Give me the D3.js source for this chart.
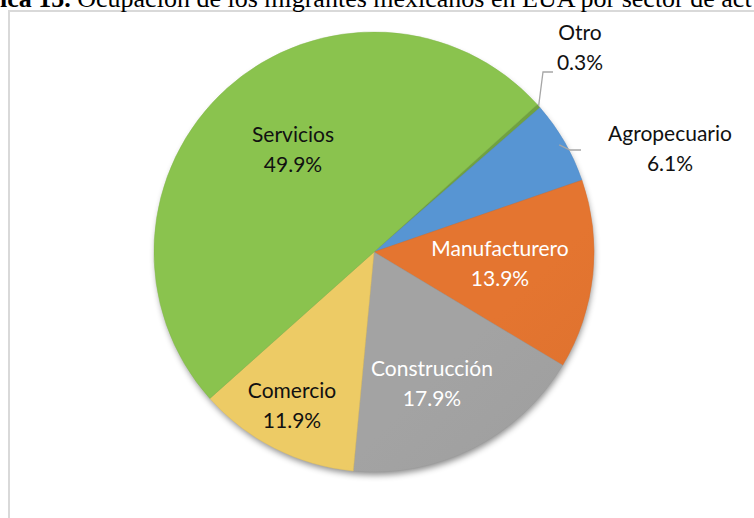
<!DOCTYPE html>
<html><head><meta charset="utf-8">
<script src="https://cdn.jsdelivr.net/npm/d3@7"></script>
<style>
html,body{margin:0;padding:0;background:#fff;overflow:hidden;}
svg{display:block;}
</style></head>
<body>
<svg id="c" width="754" height="518"></svg>
<script>
const categories = ["Otro", "Agropecuario", "Manufacturero", "Construcción", "Comercio", "Servicios"];
const values = [0.3, 6.1, 13.9, 17.9, 11.9, 49.9];
const valueLabels = ["0.3%", "6.1%", "13.9%", "17.9%", "11.9%", "49.9%"];
const colors = ["#6E9F3F", "#5592CF", "#E0732F", "#A0A0A0", "#E9C763", "#88C04D"];

const svg = d3.select("#c");
const cx = 374, cy = 252, R = 220;

// frame
svg.append("rect").attr("x", 9).attr("y", 11).attr("width", 800).attr("height", 600)
  .attr("fill", "none").attr("stroke", "#d9d9d9").attr("stroke-width", 2);

// title (cropped at top in reference)
const t = svg.append("text").attr("x", 0).attr("y", 7)
  .attr("font-family", "'Liberation Serif', 'Times New Roman', serif").attr("font-size", 26).attr("fill", "#000");
t.append("tspan").attr("font-weight", "bold").text("ica 15.");
t.append("tspan").text(" Ocupación de los migrantes mexicanos en EUA por sector de act");

const defs = svg.append("defs");
const f = defs.append("filter").attr("id", "sh").attr("x", "-20%").attr("y", "-20%").attr("width", "140%").attr("height", "140%");
f.append("feDropShadow").attr("dx", 1).attr("dy", 4).attr("stdDeviation", 3).attr("flood-color", "#000").attr("flood-opacity", 0.45);

colors.forEach((c, i) => {
  const g = defs.append("linearGradient").attr("id", "g" + i)
    .attr("gradientUnits", "userSpaceOnUse")
    .attr("x1", cx - R).attr("y1", cy - R).attr("x2", cx + R).attr("y2", cy + R);
  g.append("stop").attr("offset", 0).attr("stop-color", d3.color(c).brighter(0.05));
  g.append("stop").attr("offset", 1).attr("stop-color", d3.color(c).darker(0.3));
});

const start = 47.9 * Math.PI / 180;
const pie = d3.pie().sort(null).value(d => d).startAngle(start).endAngle(start + 2 * Math.PI);
const arcs = pie(values);
const arc = d3.arc().innerRadius(0).outerRadius(R);

const g = svg.append("g").attr("transform", `translate(${cx},${cy})`);
g.append("circle").attr("r", R - 1).attr("fill", "#888").attr("filter", "url(#sh)");
g.selectAll("path.s").data(arcs).enter().append("path").attr("class", "s")
  .attr("d", arc).attr("fill", (d, i) => `url(#g${i})`)
  .attr("stroke", (d, i) => d3.color(colors[i]).darker(0.1)).attr("stroke-width", 0.5);

// label positions (relative to center)
const labelPos = [
  [206, -212], [296, -111], [126, 4], [58, 124], [-82, 146], [-81, -110]
];
const labelColor = ["#111", "#111", "#fff", "#fff", "#111", "#111"];
const fontFam = "Lato, 'Open Sans', sans-serif";

arcs.forEach((d, i) => {
  const [lx, ly] = labelPos[i];
  const tx = g.append("text").attr("x", lx).attr("y", ly).attr("text-anchor", "middle")
    .attr("font-family", fontFam).attr("font-size", 21).attr("fill", labelColor[i]);
  tx.append("tspan").attr("x", lx).attr("dy", 0).text(categories[i]);
  tx.append("tspan").attr("x", lx).attr("dy", 29.5).text(valueLabels[i]);
});

// leader lines
const mid0 = (arcs[0].startAngle + arcs[0].endAngle) / 2;
const p0 = [R * Math.sin(mid0), -R * Math.cos(mid0)];
g.append("polyline").attr("points", [p0, [169, -180], [179, -180]].map(p => p.join(",")).join(" "))
  .attr("fill", "none").attr("stroke", "#a6a6a6").attr("stroke-width", 1.3);
const mid1 = (arcs[1].startAngle + arcs[1].endAngle) / 2;
const p1 = [(R - 6) * Math.sin(mid1), -(R - 6) * Math.cos(mid1)];
g.append("polyline").attr("points", [p1, [196, -102], [207, -102]].map(p => p.join(",")).join(" "))
  .attr("fill", "none").attr("stroke", "#a6a6a6").attr("stroke-width", 1.3);
</script>
</body></html>
